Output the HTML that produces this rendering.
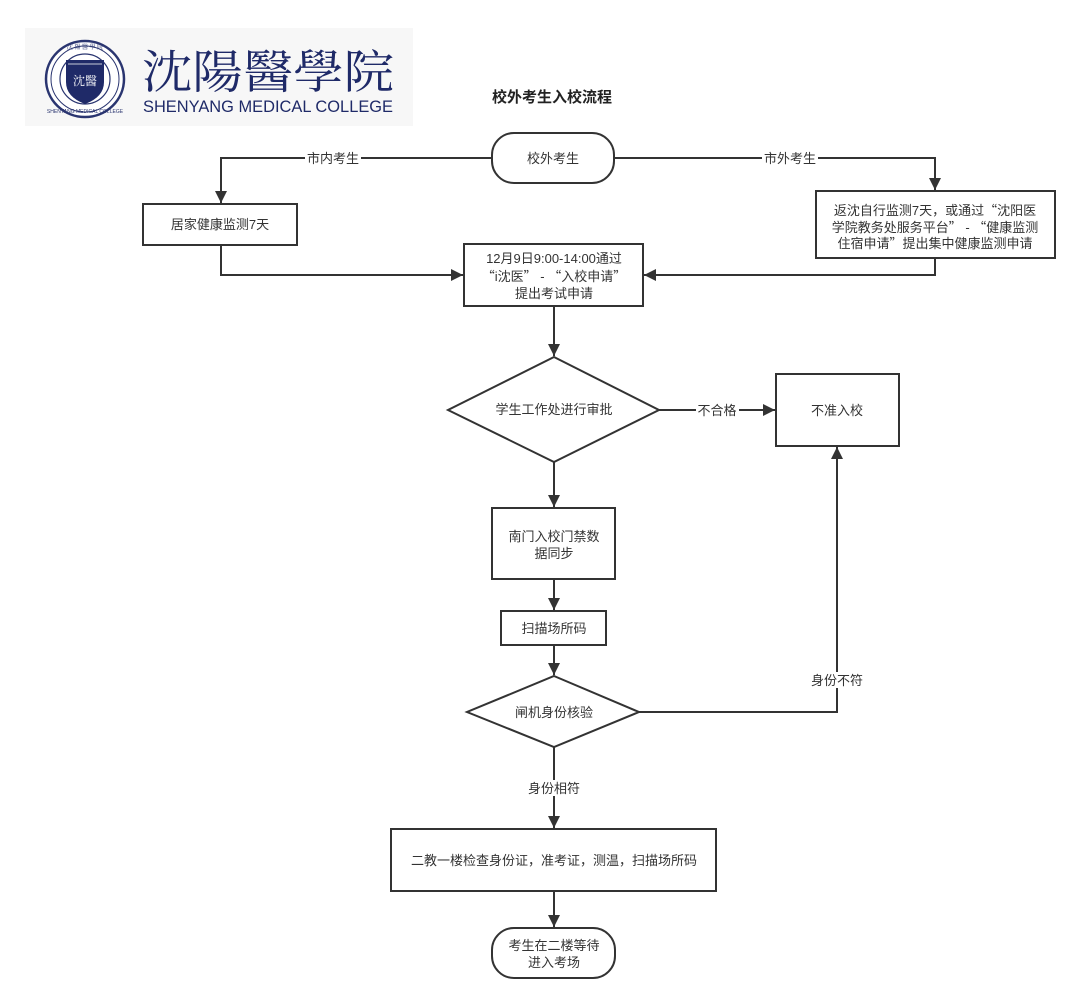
<!DOCTYPE html>
<html>
<head>
<meta charset="utf-8">
<style>
html,body{margin:0;padding:0;background:#fff;}
svg{display:block;}
.t{font-family:"Liberation Sans","Noto Sans CJK SC",sans-serif;font-size:13px;fill:#333;}
.lbl{font-family:"Liberation Sans","Noto Sans CJK SC",sans-serif;font-size:13px;fill:#333;}
.q{font-family:"Noto Sans CJK SC",sans-serif;}
</style>
</head>
<body>
<svg width="1080" height="1004" viewBox="0 0 1080 1004" xmlns="http://www.w3.org/2000/svg">
<defs>
<marker id="ar" markerUnits="userSpaceOnUse" markerWidth="14" markerHeight="12" refX="12" refY="6" orient="auto">
<path d="M0,0 L12,6 L0,12 Z" fill="#333"/>
</marker>
</defs>

<!-- Logo -->
<rect x="25" y="28" width="388" height="98" fill="#f7f7f7"/>
<ellipse cx="85" cy="79" rx="39" ry="38" fill="#fff" stroke="#2a3570" stroke-width="2.5"/>
<ellipse cx="85" cy="79" rx="34" ry="33" fill="none" stroke="#2a3570" stroke-width="1"/>
<ellipse cx="85" cy="79" rx="25" ry="25" fill="none" stroke="#2a3570" stroke-width="1.2"/>
<path d="M66,60 L104,60 L104,82 Q104,97 85,104 Q66,97 66,82 Z" fill="#1f2a68"/>
<path d="M68,64 L102,64" stroke="#fff" stroke-width="0.8"/>
<text x="85" y="85" text-anchor="middle" font-family="Noto Serif CJK SC, serif" font-size="12" fill="#fff">沈醫</text>
<text x="85" y="49" text-anchor="middle" font-family="Noto Serif CJK SC, serif" font-size="6" fill="#2a3570">沈 陽 醫 學 院</text>
<text x="85" y="113" text-anchor="middle" font-family="Liberation Sans, sans-serif" font-size="5" fill="#2a3570">SHENYANG MEDICAL COLLEGE</text>
<text x="142" y="88" font-family="Noto Serif CJK SC, serif" font-size="46" fill="#1f2a68" textLength="252" lengthAdjust="spacingAndGlyphs">沈陽醫學院</text>
<text x="143" y="112" font-family="Liberation Sans, sans-serif" font-size="17" fill="#1f2a68" textLength="250" lengthAdjust="spacingAndGlyphs">SHENYANG MEDICAL COLLEGE</text>

<!-- Title -->
<text x="552" y="102" text-anchor="middle" font-family="Liberation Sans, Noto Sans CJK SC, sans-serif" font-size="15" font-weight="bold" fill="#222">校外考生入校流程</text>

<g fill="none" stroke="#333" stroke-width="2">
<polyline points="492,158 221,158 221,203" marker-end="url(#ar)"/>
<polyline points="614,158 935,158 935,190" marker-end="url(#ar)"/>
<polyline points="221,245 221,275 463,275" marker-end="url(#ar)"/>
<polyline points="935,258 935,275 644,275" marker-end="url(#ar)"/>
<line x1="554" y1="306" x2="554" y2="356" marker-end="url(#ar)"/>
<line x1="659" y1="410" x2="775" y2="410" marker-end="url(#ar)"/>
<line x1="554" y1="462" x2="554" y2="507" marker-end="url(#ar)"/>
<line x1="554" y1="579" x2="554" y2="610" marker-end="url(#ar)"/>
<line x1="554" y1="645" x2="554" y2="675" marker-end="url(#ar)"/>
<polyline points="639,712 837,712 837,447" marker-end="url(#ar)"/>
<line x1="554" y1="747" x2="554" y2="828" marker-end="url(#ar)"/>
<line x1="554" y1="891" x2="554" y2="927" marker-end="url(#ar)"/>
</g>

<rect x="305" y="150" width="56" height="16" fill="#fff"/>
<text class="lbl" x="333" y="163" text-anchor="middle">市内考生</text>
<rect x="762" y="150" width="56" height="16" fill="#fff"/>
<text class="lbl" x="790" y="163" text-anchor="middle">市外考生</text>
<rect x="696" y="402" width="43" height="16" fill="#fff"/>
<text class="lbl" x="717" y="415" text-anchor="middle">不合格</text>
<rect x="809" y="672" width="56" height="16" fill="#fff"/>
<text class="lbl" x="837" y="685" text-anchor="middle">身份不符</text>
<rect x="526" y="780" width="56" height="16" fill="#fff"/>
<text class="lbl" x="554" y="793" text-anchor="middle">身份相符</text>

<g fill="#fff" stroke="#333" stroke-width="2">
<rect x="492" y="133" width="122" height="50" rx="22" ry="22"/>
<rect x="143" y="204" width="154" height="41"/>
<rect x="816" y="191" width="239" height="67"/>
<rect x="464" y="244" width="179" height="62"/>
<polygon points="554,357 659,410 554,462 448,410"/>
<rect x="776" y="374" width="123" height="72"/>
<rect x="492" y="508" width="123" height="71"/>
<rect x="501" y="611" width="105" height="34"/>
<polygon points="554,676 639,712 554,747 467,712"/>
<rect x="391" y="829" width="325" height="62"/>
<rect x="492" y="928" width="123" height="50" rx="22" ry="22"/>
</g>

<text class="t" x="553" y="163" text-anchor="middle">校外考生</text>
<text class="t" x="220" y="229" text-anchor="middle">居家健康监测7天</text>
<text class="t" x="935" y="215" text-anchor="middle">返沈自行监测7天，或通过<tspan class="q">“</tspan>沈阳医</text>
<text class="t" x="935" y="232" text-anchor="middle">学院教务处服务平台<tspan class="q">”</tspan> - <tspan class="q">“</tspan>健康监测</text>
<text class="t" x="935" y="248" text-anchor="middle">住宿申请<tspan class="q">”</tspan>提出集中健康监测申请</text>
<text class="t" x="554" y="263" text-anchor="middle">12月9日9:00-14:00通过</text>
<text class="t" x="554" y="281" text-anchor="middle"><tspan class="q">“</tspan>i沈医<tspan class="q">”</tspan> - <tspan class="q">“</tspan>入校申请<tspan class="q">”</tspan></text>
<text class="t" x="554" y="298" text-anchor="middle">提出考试申请</text>
<text class="t" x="554" y="414" text-anchor="middle">学生工作处进行审批</text>
<text class="t" x="837" y="415" text-anchor="middle">不准入校</text>
<text class="t" x="554" y="541" text-anchor="middle">南门入校门禁数</text>
<text class="t" x="554" y="558" text-anchor="middle">据同步</text>
<text class="t" x="554" y="633" text-anchor="middle">扫描场所码</text>
<text class="t" x="554" y="717" text-anchor="middle">闸机身份核验</text>
<text class="t" x="554" y="865" text-anchor="middle">二教一楼检查身份证，准考证，测温，扫描场所码</text>
<text class="t" x="554" y="950" text-anchor="middle">考生在二楼等待</text>
<text class="t" x="554" y="967" text-anchor="middle">进入考场</text>
</svg>
</body>
</html>
